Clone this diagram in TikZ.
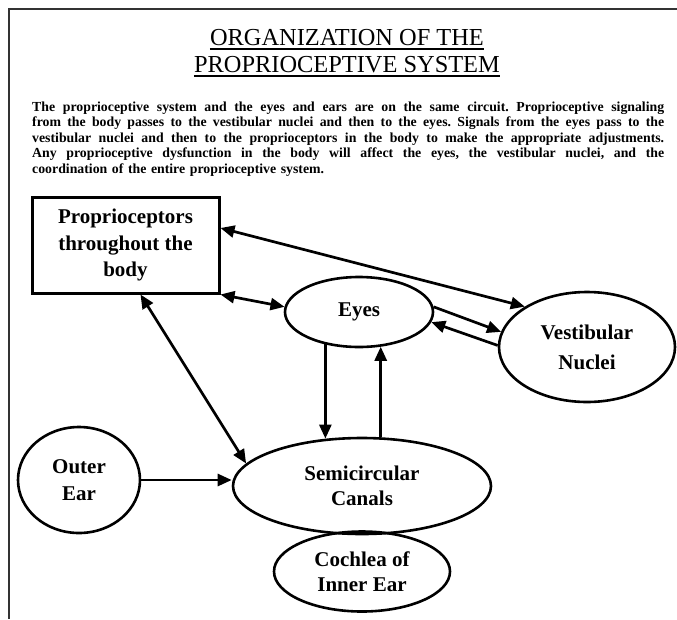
\documentclass[tikz,border=0pt]{standalone}
\usepackage{fontspec}
\setmainfont{Liberation Serif}
\usetikzlibrary{arrows.meta,shapes.geometric,calc}

% one fully justified line of the paragraph (stretchable word spaces)
\newcommand{\fullline}[1]{\makebox[632pt][s]{\frenchspacing\spaceskip=0.25em plus 3em\relax #1}}

\begin{document}
\begin{tikzpicture}[x=1pt,y=-1pt,
  >={Triangle[length=14pt,width=12pt]},
  frame/.style={line width=2pt,black!80},
  heading/.style={inner sep=0pt,anchor=base,font=\fontsize{24.4}{27}\selectfont},
  rule/.style={line width=1.8pt},
  textblock/.style={inner sep=0pt,anchor=base west,align=left,text width=632pt,
    font=\bfseries\fontsize{13.8}{15.5}\selectfont},
  box/.style={rectangle,draw,line width=3pt,inner sep=0pt,align=center,
    font=\bfseries\fontsize{21}{26.5}\selectfont},
  oval/.style={ellipse,draw,line width=2.6pt,inner sep=0pt,align=center,
    font=\bfseries\fontsize{21}{25}\selectfont},
  link/.style={line width=2.7pt,->},
  both/.style={line width=2.7pt,<->}
]
\useasboundingbox (0,0) rectangle (677,619);

% page frame
\draw[frame] (677,9) -- (9,9) -- (9,619);

% heading
\node[heading] (t1) at (347,45) {ORGANIZATION OF THE};
\node[heading] (t2) at (347,72) {PROPRIOCEPTIVE SYSTEM};
\draw[rule] ([yshift=-4pt]t1.base west) -- ([yshift=-4pt]t1.base east);
\draw[rule] ([yshift=-4pt]t2.base west) -- ([yshift=-4pt]t2.base east);

% explanatory paragraph, justified line by line
\node[textblock] (para) at (32,111) {%
\fullline{The proprioceptive system and the eyes and ears are on the same circuit. Proprioceptive signaling}\\
\fullline{from the body passes to the vestibular nuclei and then to the eyes. Signals from the eyes pass to the}\\
\fullline{vestibular nuclei and then to the proprioceptors in the body to make the appropriate adjustments.}\\
\fullline{Any proprioceptive dysfunction in the body will affect the eyes, the vestibular nuclei, and the}\\
coordination of the entire proprioceptive system.};

% parts of the circuit
\node[box,minimum width=187pt,minimum height=96pt] (body) at (125.5,245)
  {Proprioceptors\\throughout the\\body};
\node[oval,minimum width=148pt,minimum height=70pt] (eyes) at (359,312) {Eyes};
\node[oval,minimum width=176pt,minimum height=110pt,
  font=\bfseries\fontsize{21}{30}\selectfont] (vest) at (587,347) {Vestibular\\Nuclei};
\node[oval,minimum width=122pt,minimum height=106pt,
  font=\bfseries\fontsize{21}{27}\selectfont] (outer) at (79,480) {Outer\\Ear};
\node[oval,minimum width=258pt,minimum height=96pt] (semi) at (362,486) {Semicircular\\Canals};
\node[oval,minimum width=176pt,minimum height=80pt] (coch) at (362,571.5) {Cochlea of\\Inner Ear};

% signal paths
\draw[both] ([yshift=17pt]body.east) -- (vest.147);
\draw[both] (body.south east) -- (eyes.176);
\draw[both] ([xshift=15pt]body.south) -- (semi.169);
\draw[link] (eyes.4) -- (vest.170);
\draw[link] (vest.179) -- (eyes.352);
\draw[link] (eyes.224.6) -- (eyes.224.6 |- semi.127.2);
\draw[link] (eyes.302 |- semi.69.25) -- (eyes.302);
\draw[link] (outer.east) -- (outer.east -| semi.west);
\end{tikzpicture}
\end{document}
